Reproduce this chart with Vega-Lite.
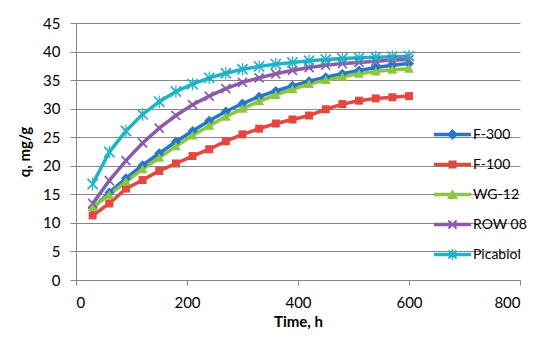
{
  "$schema": "https://vega.github.io/schema/vega-lite/v6.json",
  "autosize": "none",
  "width": 444,
  "height": 257,
  "padding": {"left": 76, "top": 23, "right": 30, "bottom": 59},
  "background": "white",
  "config": {
    "view": {"stroke": null},
    "font": "Lato",
    "axis": {"labelFont": "Lato", "titleFont": "Lato", "labelColor": "#000", "titleColor": "#000", "domainColor": "#868686", "tickColor": "#868686"}
  },
  "datasets": {
    "kin": [
      {"series": "F-300", "time": 30, "q": 12.6}, {"series": "F-300", "time": 60, "q": 15.3}, {"series": "F-300", "time": 90, "q": 17.8}, {"series": "F-300", "time": 120, "q": 20.1}, {"series": "F-300", "time": 150, "q": 22.2}, {"series": "F-300", "time": 180, "q": 24.2}, {"series": "F-300", "time": 210, "q": 26.1}, {"series": "F-300", "time": 240, "q": 27.9}, {"series": "F-300", "time": 270, "q": 29.5}, {"series": "F-300", "time": 300, "q": 30.9}, {"series": "F-300", "time": 330, "q": 32.1}, {"series": "F-300", "time": 360, "q": 33.1}, {"series": "F-300", "time": 390, "q": 34.0}, {"series": "F-300", "time": 420, "q": 34.8}, {"series": "F-300", "time": 450, "q": 35.5}, {"series": "F-300", "time": 480, "q": 36.1}, {"series": "F-300", "time": 510, "q": 36.7}, {"series": "F-300", "time": 540, "q": 37.2}, {"series": "F-300", "time": 570, "q": 37.6}, {"series": "F-300", "time": 600, "q": 37.9},
      {"series": "F-100", "time": 30, "q": 11.3}, {"series": "F-100", "time": 60, "q": 13.4}, {"series": "F-100", "time": 90, "q": 16.0}, {"series": "F-100", "time": 120, "q": 17.5}, {"series": "F-100", "time": 150, "q": 19.1}, {"series": "F-100", "time": 180, "q": 20.4}, {"series": "F-100", "time": 210, "q": 21.7}, {"series": "F-100", "time": 240, "q": 22.9}, {"series": "F-100", "time": 270, "q": 24.3}, {"series": "F-100", "time": 300, "q": 25.5}, {"series": "F-100", "time": 330, "q": 26.5}, {"series": "F-100", "time": 360, "q": 27.4}, {"series": "F-100", "time": 390, "q": 28.1}, {"series": "F-100", "time": 420, "q": 28.8}, {"series": "F-100", "time": 450, "q": 29.9}, {"series": "F-100", "time": 480, "q": 30.8}, {"series": "F-100", "time": 510, "q": 31.4}, {"series": "F-100", "time": 540, "q": 31.8}, {"series": "F-100", "time": 570, "q": 32.0}, {"series": "F-100", "time": 600, "q": 32.2},
      {"series": "WG-12", "time": 30, "q": 12.8}, {"series": "WG-12", "time": 60, "q": 14.9}, {"series": "WG-12", "time": 90, "q": 17.2}, {"series": "WG-12", "time": 120, "q": 19.4}, {"series": "WG-12", "time": 150, "q": 21.4}, {"series": "WG-12", "time": 180, "q": 23.4}, {"series": "WG-12", "time": 210, "q": 25.3}, {"series": "WG-12", "time": 240, "q": 27.0}, {"series": "WG-12", "time": 270, "q": 28.6}, {"series": "WG-12", "time": 300, "q": 30.0}, {"series": "WG-12", "time": 330, "q": 31.3}, {"series": "WG-12", "time": 360, "q": 32.4}, {"series": "WG-12", "time": 390, "q": 33.4}, {"series": "WG-12", "time": 420, "q": 34.3}, {"series": "WG-12", "time": 450, "q": 35.0}, {"series": "WG-12", "time": 480, "q": 35.6}, {"series": "WG-12", "time": 510, "q": 36.1}, {"series": "WG-12", "time": 540, "q": 36.5}, {"series": "WG-12", "time": 570, "q": 36.8}, {"series": "WG-12", "time": 600, "q": 37.0},
      {"series": "ROW 08", "time": 30, "q": 13.4}, {"series": "ROW 08", "time": 60, "q": 17.4}, {"series": "ROW 08", "time": 90, "q": 20.9}, {"series": "ROW 08", "time": 120, "q": 24.0}, {"series": "ROW 08", "time": 150, "q": 26.6}, {"series": "ROW 08", "time": 180, "q": 28.8}, {"series": "ROW 08", "time": 210, "q": 30.7}, {"series": "ROW 08", "time": 240, "q": 32.2}, {"series": "ROW 08", "time": 270, "q": 33.5}, {"series": "ROW 08", "time": 300, "q": 34.6}, {"series": "ROW 08", "time": 330, "q": 35.4}, {"series": "ROW 08", "time": 360, "q": 36.1}, {"series": "ROW 08", "time": 390, "q": 36.7}, {"series": "ROW 08", "time": 420, "q": 37.2}, {"series": "ROW 08", "time": 450, "q": 37.6}, {"series": "ROW 08", "time": 480, "q": 37.9}, {"series": "ROW 08", "time": 510, "q": 38.1}, {"series": "ROW 08", "time": 540, "q": 38.3}, {"series": "ROW 08", "time": 570, "q": 38.5}, {"series": "ROW 08", "time": 600, "q": 38.6},
      {"series": "Picabiol", "time": 30, "q": 16.8}, {"series": "Picabiol", "time": 60, "q": 22.4}, {"series": "Picabiol", "time": 90, "q": 26.1}, {"series": "Picabiol", "time": 120, "q": 29.0}, {"series": "Picabiol", "time": 150, "q": 31.2}, {"series": "Picabiol", "time": 180, "q": 33.0}, {"series": "Picabiol", "time": 210, "q": 34.3}, {"series": "Picabiol", "time": 240, "q": 35.4}, {"series": "Picabiol", "time": 270, "q": 36.2}, {"series": "Picabiol", "time": 300, "q": 36.9}, {"series": "Picabiol", "time": 330, "q": 37.4}, {"series": "Picabiol", "time": 360, "q": 37.8}, {"series": "Picabiol", "time": 390, "q": 38.1}, {"series": "Picabiol", "time": 420, "q": 38.4}, {"series": "Picabiol", "time": 450, "q": 38.6}, {"series": "Picabiol", "time": 480, "q": 38.8}, {"series": "Picabiol", "time": 510, "q": 38.9}, {"series": "Picabiol", "time": 540, "q": 39.0}, {"series": "Picabiol", "time": 570, "q": 39.1}, {"series": "Picabiol", "time": 600, "q": 39.2}
    ]
  },
  "data": {"name": "kin"},
  "encoding": {
    "x": {"field": "time", "type": "quantitative", "scale": {"domain": [0, 800], "nice": false},
      "axis": {"values": [0, 200, 400, 600, 800], "grid": false, "tickSize": 5, "labelFontSize": 15, "labelPadding": 10, "title": "Time, h", "titleFontSize": 15, "titleFontWeight": "bold", "titlePadding": 4}},
    "y": {"field": "q", "type": "quantitative", "scale": {"domain": [0, 45], "nice": false},
      "axis": {"values": [0, 5, 10, 15, 20, 25, 30, 35, 40, 45], "grid": true, "gridColor": "#878787", "tickSize": 6, "labelFontSize": 15, "labelPadding": 10, "title": "q, mg/g", "titleFontSize": 15, "titleFontWeight": "bold", "titlePadding": 10}}
  },
  "resolve": {"scale": {"shape": "independent"}, "legend": {"color": "independent", "shape": "independent"}},
  "layer": [
    {"mark": {"type": "line", "strokeWidth": 3.5},
      "encoding": {
        "color": {"field": "series", "type": "nominal", "legend": null,
          "scale": {"domain": ["F-300", "F-100", "WG-12", "ROW 08", "Picabiol"], "range": ["#2478C4", "#E5463F", "#8DC441", "#8A5BA8", "#1FB3C8"]}}
      }},
    {"mark": {"type": "point", "filled": true, "opacity": 1, "size": 100, "strokeWidth": 0},
      "encoding": {
        "color": {"field": "series", "type": "nominal", "legend": null},
        "shape": {"field": "series", "type": "nominal", "legend": null,
          "scale": {"domain": ["F-300", "F-100", "WG-12", "ROW 08", "Picabiol"],
            "range": [
              "M0,-1L1,0L0,1L-1,0Z",
              "M-0.8,-0.8H0.8V0.8H-0.8Z",
              "M0,-0.95L1,0.8L-1,0.8Z",
              "M-0.78,-1.02L1.02,0.78L0.78,1.02L-1.02,-0.78Z M-0.78,1.02L-1.02,0.78L0.78,-1.02L1.02,-0.78Z",
              "M-0.9,-1.14L1.14,0.9L0.9,1.14L-1.14,-0.9Z M-0.9,1.14L-1.14,0.9L0.9,-1.14L1.14,-0.9Z M-0.12,-1.25H0.12V1.25H-0.12Z"
            ]}}
      }},
    {"mark": {"type": "point", "filled": true, "opacity": 0, "size": 1, "strokeWidth": 0},
      "encoding": {
        "color": {"field": "series", "type": "nominal",
          "legend": {"orient": "none", "legendX": 358, "legendY": 93, "title": null, "labelFont": "Lato", "labelFontSize": 14, "labelColor": "#000", "symbolSize": 1369, "symbolOpacity": 1, "rowPadding": 4, "labelOffset": 2, "symbolStrokeWidth": 0}},
        "shape": {"field": "series", "type": "nominal",
          "legend": {"orient": "none", "legendX": 358, "legendY": 93, "title": null, "labelFont": "Lato", "labelFontSize": 14, "labelColor": "#000", "symbolSize": 1369, "symbolOpacity": 1, "rowPadding": 4, "labelOffset": 2, "symbolStrokeWidth": 0},
          "scale": {"domain": ["F-300", "F-100", "WG-12", "ROW 08", "Picabiol"],
            "range": [
              "M-1,-0.1H1V0.1H-1Z M0,-0.3L0.3,0L0,0.3L-0.3,0Z",
              "M-1,-0.1H1V0.1H-1Z M-0.22,-0.22H0.22V0.22H-0.22Z",
              "M-1,-0.1H1V0.1H-1Z M0,-0.28L0.3,0.24L-0.3,0.24Z",
              "M-1,-0.1H1V0.1H-1Z M-0.18,-0.26L0.26,0.18L0.18,0.26L-0.26,-0.18Z M-0.18,0.26L-0.26,0.18L0.18,-0.26L0.26,-0.18Z",
              "M-1,-0.1H1V0.1H-1Z M-0.18,-0.26L0.26,0.18L0.18,0.26L-0.26,-0.18Z M-0.18,0.26L-0.26,0.18L0.18,-0.26L0.26,-0.18Z M-0.035,-0.3H0.035V0.3H-0.035Z"
            ]}}
      }}
  ]
}
